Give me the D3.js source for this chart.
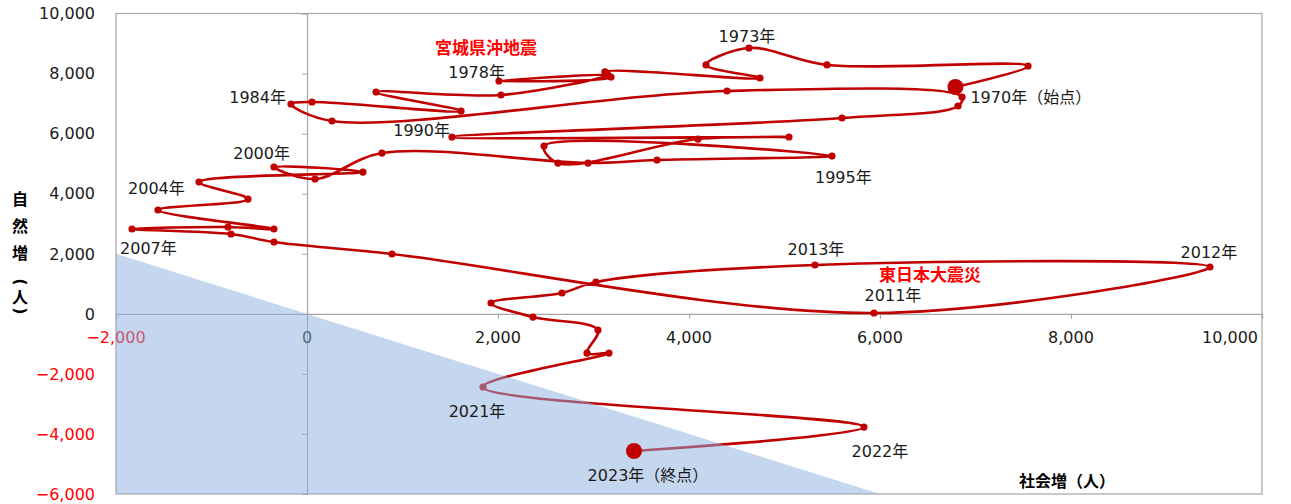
<!DOCTYPE html>
<html><head><meta charset="utf-8">
<script src="https://cdn.jsdelivr.net/npm/d3@7"></script>
<style>
body{margin:0;background:#fff}
text{font-family:"DejaVu Sans","Noto Sans CJK JP",sans-serif}
</style>
</head><body>
<svg id="chart" width="1291" height="504"></svg>
<script>
// ---------------- data ----------------
const years = [1970,1971,1972,1973,1974,1975,1976,1977,1978,1979,
               1980,1981,1982,1983,1984,1985,1986,1987,1988,1989,
               1990,1991,1992,1993,1994,1995,1996,1997,1998,1999,
               2000,2001,2002,2003,2004,2005,2006,2007,2008,2009,
               2010,2011,2012,2013,2014,2015,2016,2017,2018,2019,
               2020,2021,2022,2023];
// 社会増（人） x
const socialIncrease = [6790,7550,5445,4628,4178,4743,3120,3183,2010,3152,
                        2031,723,1613,52,-168,262,4398,6859,6817,5602,
                        1518,5047,4094,2628,2482,5497,3665,2942,785,84,
                        -346,586,-1131,-618,-1560,-346,-827,-1832,-796,-346,
                        890,5937,9455,5319,3026,2670,1927,2366,3047,2932,
                        3162,1843,5832,3424];
// 自然増（人） y
const naturalIncrease = [7553,8252,8286,8851,8286,7853,8053,7886,7753,7952,
                         7286,7386,6753,7053,6986,6420,7420,7220,6920,6520,
                         5887,5887,5820,5021,5587,5254,5121,5021,5354,4488,
                         4888,4721,4388,3822,3456,2824,2890,2824,2657,2391,
                         1992,27,1558,1625,1059,693,360,-107,-540,-1306,
                         -1306,-2438,-3770,-4569];
const xTicks = [-2000,0,2000,4000,6000,8000,10000];
const yTicks = [-6000,-4000,-2000,0,2000,4000,6000,8000,10000];
const labelYears = [1970,1973,1978,1984,1990,1995,2000,2004,2007,2011,2012,2013,2021,2022,2023];
const labelTexts = ["1970年（始点）","1973年","1978年","1984年","1990年","1995年","2000年","2004年",
                    "2007年","2011年","2012年","2013年","2021年","2022年","2023年（終点）"];
const eventTexts = ["宮城県沖地震","東日本大震災"];
const eventYears = [1978, 2011];
const xTitle = "社会増（人）";
const yTitleChars = ["自","然","増","(","人",")"];

// ---------------- layout ----------------
const W = 1291, H = 504;
const plot = {left:116, right:1262, top:13.5, bottom:494};
// label offsets (px) relative to the labelled point: [dx, dy, anchor]
const labelLayout = {
  1970:[15,10,"start"], 1973:[-2,-12,"middle"], 1978:[6,-9,"end"], 1984:[-5,-7,"end"],
  1990:[-2,-7,"end"], 1995:[-17,21,"start"], 2000:[16,-14,"end"], 2004:[-30,-22,"start"],
  2007:[-12,19,"start"], 2011:[19,-18,"middle"], 2012:[-1,-15,"middle"], 2013:[1,-16,"middle"],
  2021:[-6,24,"middle"], 2022:[16,24,"middle"], 2023:[14,24,"middle"]
};
const eventLayout = {1978:[-13,-33], 2011:[56,-38]};
const yTitlePos = [199,226,253,282,297,311];

const svg = d3.select("#chart");
const x = d3.scaleLinear().domain([-2000,10000]).range([plot.left, plot.right]);
const y = d3.scaleLinear().domain([-6000,10000]).range([plot.bottom, plot.top]);
const fmt = d3.format(",");
const axisCol = "#a6a6a6";

const pts = years.map((yr,i)=>({year:yr, sx:socialIncrease[i], ny:naturalIncrease[i]}));
const byYear = new Map(pts.map(p=>[p.year,p]));

// plot border
svg.append("rect").attr("x",plot.left).attr("y",plot.top)
  .attr("width",plot.right-plot.left).attr("height",plot.bottom-plot.top)
  .attr("fill","none").attr("stroke",axisCol).attr("stroke-width",1.2);

// x axis at y=0
const xAxis = d3.axisBottom(x).tickValues(xTicks).tickSize(5).tickFormat("");
const gx = svg.append("g").attr("transform",`translate(0,${y(0)})`).call(xAxis);
gx.select(".domain").attr("stroke",axisCol).attr("stroke-width",1.2);
gx.selectAll(".tick line").attr("stroke",axisCol);

// y axis at x=0
const yAxis = d3.axisLeft(y).tickValues(yTicks).tickSize(5).tickFormat("");
const gy = svg.append("g").attr("transform",`translate(${x(0)},0)`).call(yAxis);
gy.select(".domain").attr("stroke",axisCol).attr("stroke-width",1.2);
gy.selectAll(".tick line").attr("stroke",axisCol);

// y tick labels (left of plot)
svg.append("g").selectAll("text").data(yTicks).join("text")
  .attr("x",95).attr("y",d=>y(d)).attr("dy","0.36em")
  .attr("text-anchor","end").attr("font-size",16)
  .attr("fill",d=>d<0?"#ff0000":"#1a1a1a").text(d=>fmt(d));

// x tick labels (below y=0 line)
svg.append("g").selectAll("text").data(xTicks).join("text")
  .attr("x",(d,i)=> i===xTicks.length-1 ? x(d)-4 : x(d))
  .attr("y",y(0)+23).attr("dy","0.36em")
  .attr("text-anchor",(d,i)=> i===xTicks.length-1 ? "end":"middle")
  .attr("font-size",16)
  .attr("fill",d=>d<0?"#ff0000":"#1a1a1a").text(d=>fmt(d));

// trajectory line
const red = "#c00000";
const line = d3.line().x(d=>x(d.sx)).y(d=>y(d.ny)).curve(d3.curveCatmullRom.alpha(0.5));
svg.append("path").datum(pts).attr("d",line)
  .attr("fill","none").attr("stroke",red).attr("stroke-width",2.6)
  .attr("stroke-linejoin","round");

// small markers
svg.append("g").selectAll("circle").data(pts).join("circle")
  .attr("cx",d=>x(d.sx)).attr("cy",d=>y(d.ny)).attr("r",3.6).attr("fill",red);

// shaded population-decrease region (x + y < 0), semi-transparent on top
const x0 = x.domain()[0], y0 = y.domain()[0];
const region = [[x0,-x0],[-y0,y0],[x0,y0]];
svg.append("path")
  .attr("d", d3.line().x(d=>x(d[0])).y(d=>y(d[1]))(region)+"Z")
  .attr("fill","#8bafdd").attr("fill-opacity",0.5);

// start / end markers
const ends = [pts[0], pts[pts.length-1]];
svg.append("g").selectAll("circle").data(ends).join("circle")
  .attr("cx",d=>x(d.sx)).attr("cy",d=>y(d.ny)).attr("r",8).attr("fill",red);

// year labels
svg.append("g").selectAll("text").data(labelYears).join("text")
  .attr("x",d=>x(byYear.get(d).sx)+labelLayout[d][0])
  .attr("y",d=>y(byYear.get(d).ny)+labelLayout[d][1])
  .attr("dy","0.36em").attr("text-anchor",d=>labelLayout[d][2])
  .attr("font-size",16).attr("fill","#1a1a1a")
  .text((d,i)=>labelTexts[i]);

// event labels
svg.append("g").selectAll("text").data(eventYears).join("text")
  .attr("x",d=>x(byYear.get(d).sx)+eventLayout[d][0])
  .attr("y",d=>y(byYear.get(d).ny)+eventLayout[d][1])
  .attr("dy","0.36em").attr("text-anchor","middle")
  .attr("font-size",17).attr("font-weight","bold").attr("fill","#ff0000")
  .text((d,i)=>eventTexts[i]);

// axis titles
svg.append("text").attr("x",1067).attr("y",481).attr("dy","0.36em")
  .attr("text-anchor","middle").attr("font-size",16).attr("font-weight","bold")
  .attr("fill","#000").text(xTitle);

svg.append("g").selectAll("text").data(yTitleChars).join("text")
  .attr("x",20).attr("y",(d,i)=>yTitlePos[i])
  .attr("text-anchor","middle").attr("dominant-baseline","central")
  .attr("transform",(d,i)=> (d==="("||d===")") ? `rotate(90,20,${yTitlePos[i]})` : null)
  .attr("font-size",16).attr("font-weight","bold")
  .attr("fill","#000").text(d=>d);
</script>
</body></html>
